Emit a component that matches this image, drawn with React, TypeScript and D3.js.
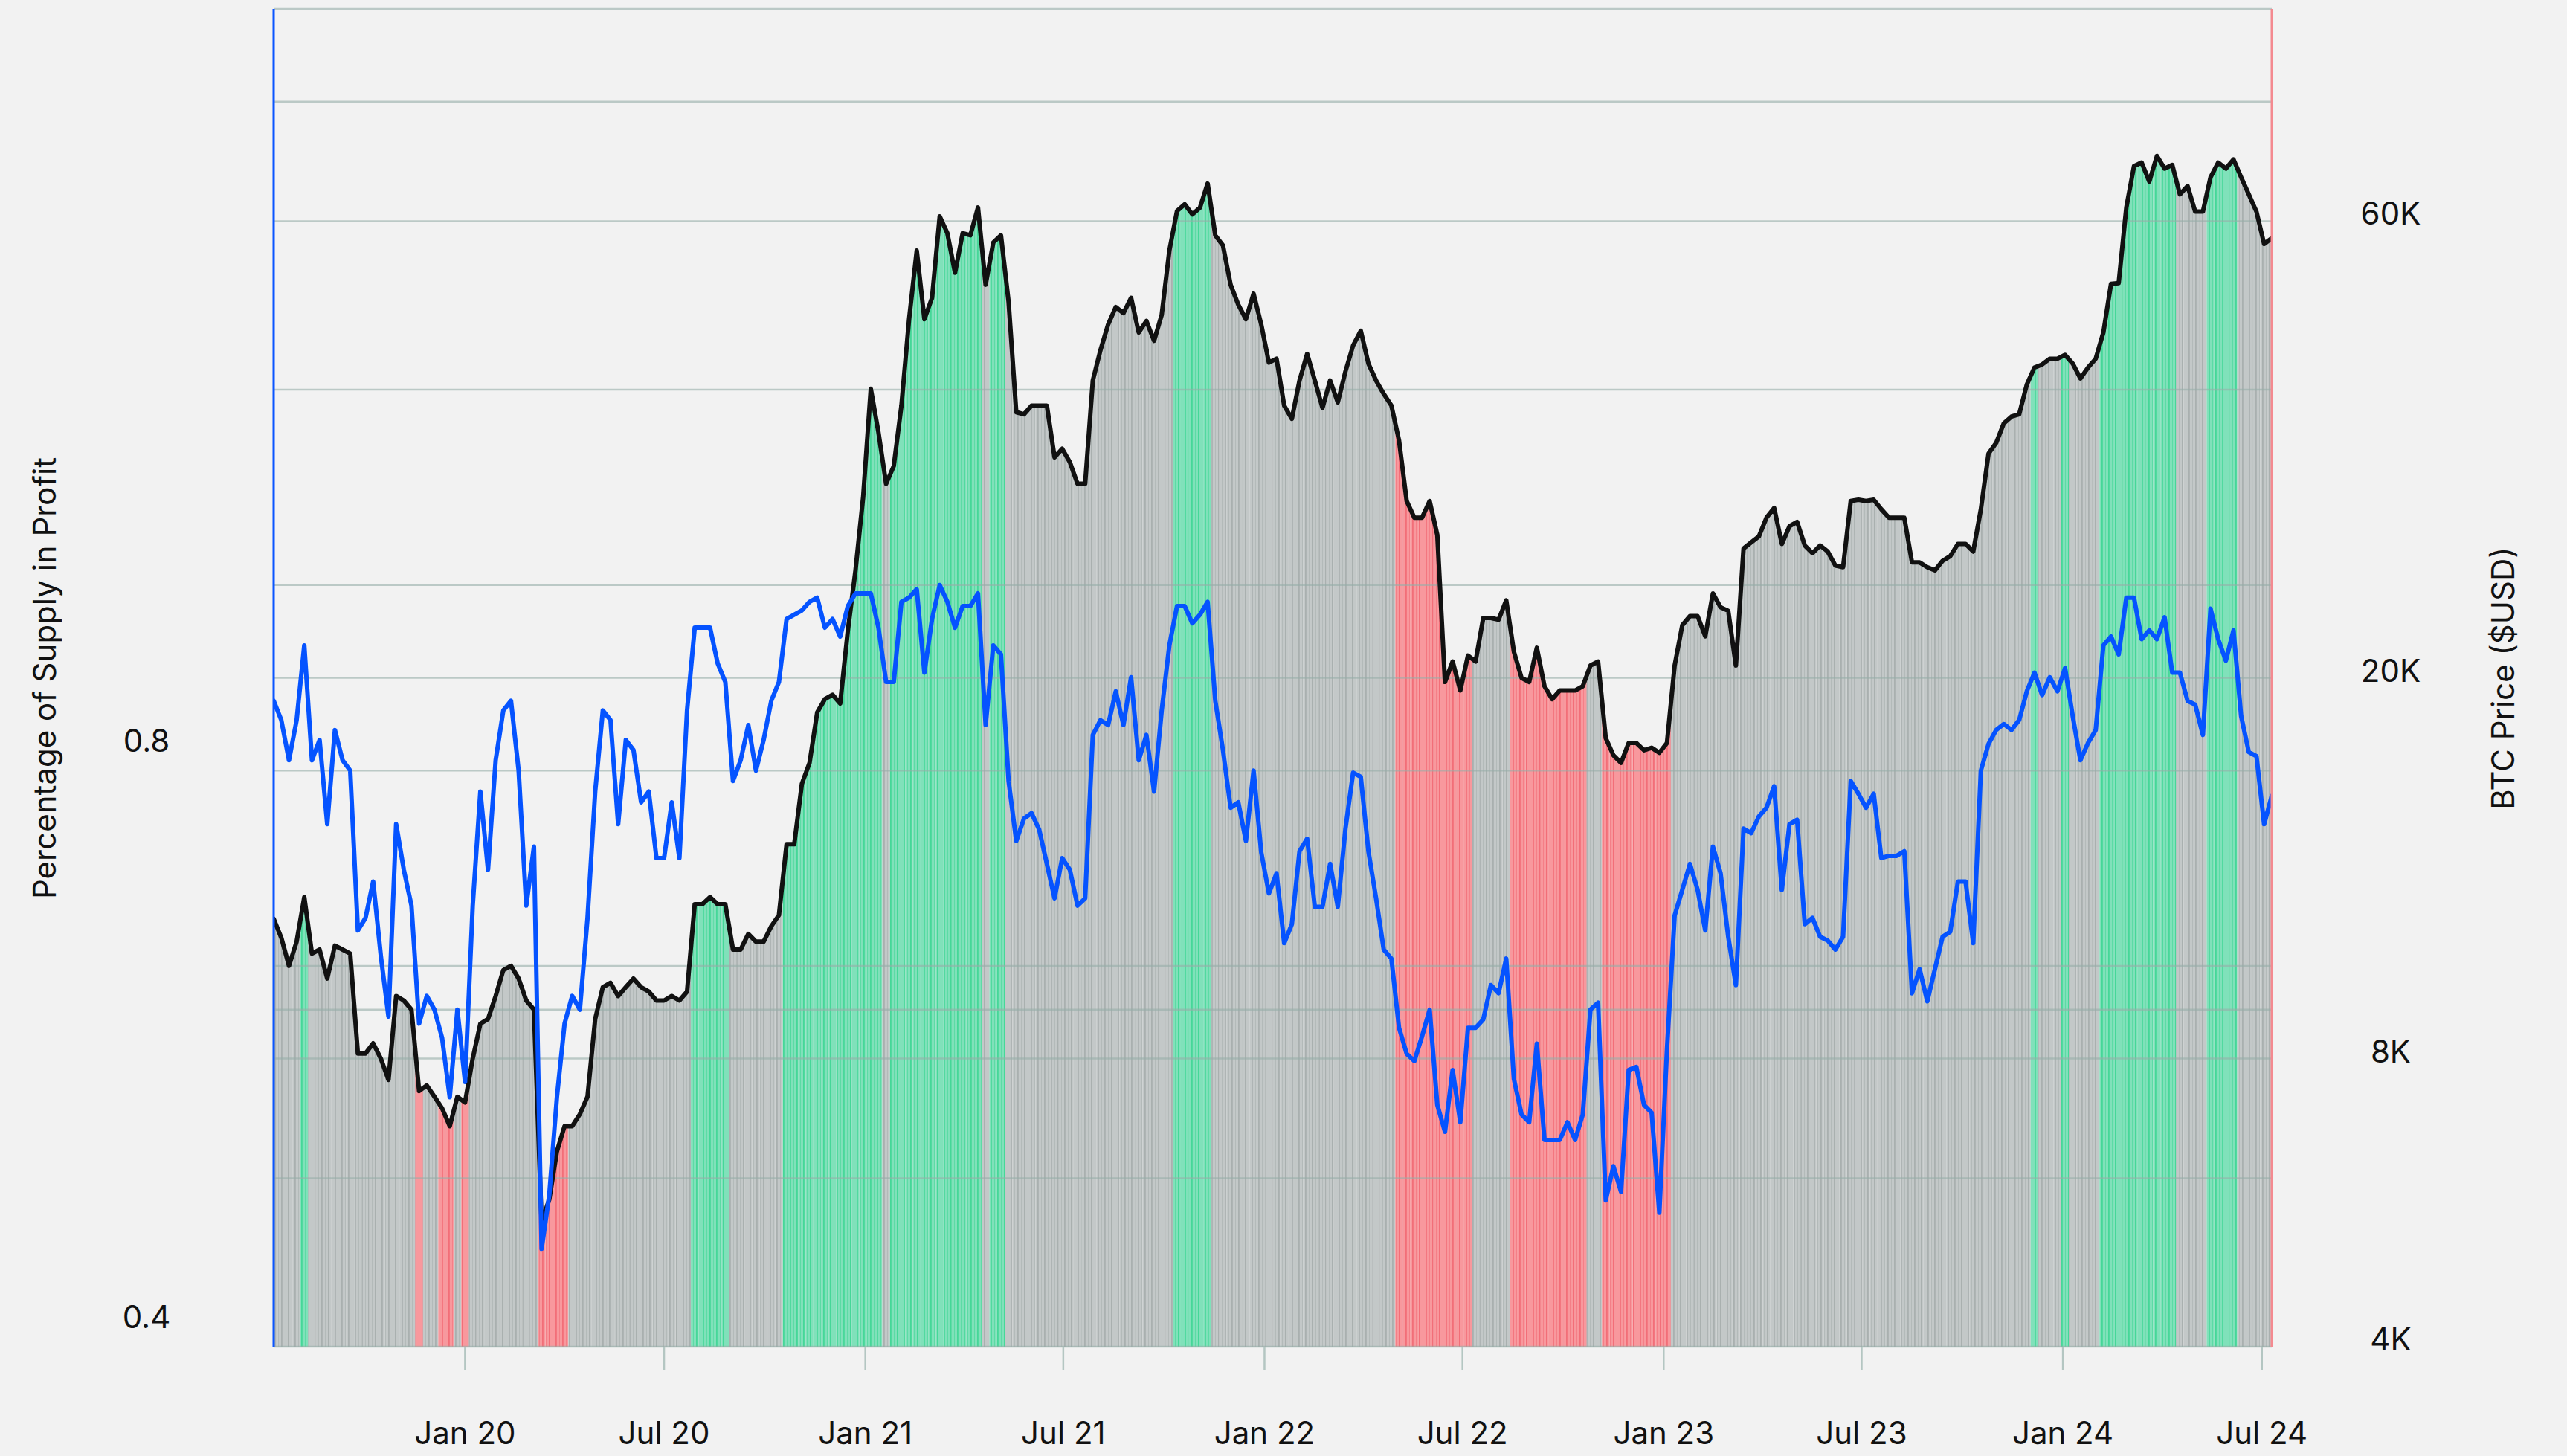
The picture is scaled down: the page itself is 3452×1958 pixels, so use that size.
import React from 'react';
import * as d3 from 'd3';

// weekly samples, first one on 2019-07-10
const startDate = new Date(Date.UTC(2019, 6, 10));
const endDate = new Date(Date.UTC(2024, 6, 10));
const stepDays = 7;

// BTC price, thousands of USD
const btcPriceK = [
  11.2, 10.7, 10.0, 10.6, 11.8, 10.3, 10.4, 9.7, 10.5, 10.4, 10.3, 8.1, 8.1, 8.3, 8.0, 7.6, 9.3, 9.2, 9.0, 7.4, 7.5, 7.3,
  7.1, 6.8, 7.3, 7.2, 8.0, 8.7, 8.8, 9.3, 9.9, 10.0, 9.7, 9.2, 9.0, 5.4, 5.7, 6.4, 6.8, 6.8, 7.0, 7.3, 8.8, 9.5,
  9.6, 9.3, 9.5, 9.7, 9.5, 9.4, 9.2, 9.2, 9.3, 9.2, 9.4, 11.6, 11.6, 11.8, 11.6, 11.6, 10.4, 10.4, 10.8, 10.6, 10.6, 11.0,
  11.3, 13.4, 13.4, 15.5, 16.3, 18.4, 19.0, 19.2, 18.8, 22.4, 25.9, 30.9, 40.1, 36.1, 31.9, 33.3, 38.5, 47.4, 55.9, 47.4, 49.9,
  60.7, 58.3, 53.0, 58.3, 58.0, 62.0, 51.5, 57.0, 58.0, 49.4, 37.9, 37.7, 38.5, 38.5, 38.5, 34.0, 34.7, 33.6, 31.9, 31.9, 40.9, 44.0,
  46.8, 48.8, 48.1, 49.9, 45.9, 47.2, 45.0, 47.9, 55.9, 61.5, 62.5, 61.0, 62.0, 65.7, 58.0, 56.6, 51.5, 49.1, 47.4, 50.4, 46.8, 42.7,
  43.1, 38.5, 37.3, 40.9, 43.6, 40.9, 38.3, 40.9, 38.8, 41.8, 44.5, 46.1, 42.6, 40.9, 39.6, 38.5, 35.4, 30.6, 29.4, 29.4, 30.6, 28.2,
  19.8, 20.8, 19.4, 21.1, 20.8, 23.1, 23.1, 23.0, 24.1, 21.3, 20.0, 19.8, 21.5, 19.6, 19.0, 19.4, 19.4, 19.4, 19.6, 20.6, 20.8,
  17.3, 16.6, 16.3, 17.1, 17.1, 16.8, 16.9, 16.7, 17.1, 20.6, 22.7, 23.2, 23.2, 22.1, 24.5, 23.7, 23.5, 20.6, 27.3, 27.7, 28.1, 29.4,
  30.1, 27.6, 28.8, 29.1, 27.5, 27.0, 27.5, 27.1, 26.2, 26.1, 30.6, 30.7, 30.6, 30.7, 30.0, 29.4, 29.4, 29.4, 26.4, 26.4, 26.1, 25.9,
  26.5, 26.8, 27.6, 27.6, 27.1, 30.0, 34.3, 35.2, 36.9, 37.5, 37.7, 40.5, 42.2, 42.5, 43.1, 43.1, 43.5, 42.6, 41.1, 42.2, 43.1, 45.9,
  51.6, 51.7, 62.0, 68.5, 69.1, 66.0, 70.2, 68.1, 68.7, 64.0, 65.3, 61.4, 61.4, 66.7, 69.1, 68.1, 69.6, 66.7, 64.0, 61.4, 56.8, 57.6,
];

// share of supply in profit
const supplyInProfit = [
  0.87, 0.85, 0.81, 0.85, 0.93, 0.81, 0.83, 0.75, 0.84, 0.81, 0.80, 0.66, 0.67, 0.70, 0.64, 0.595, 0.75, 0.71, 0.68, 0.59, 0.61, 0.60,
  0.58, 0.54, 0.60, 0.55, 0.68, 0.78, 0.71, 0.81, 0.86, 0.87, 0.80, 0.68, 0.73, 0.45, 0.48, 0.54, 0.59, 0.61, 0.60, 0.67, 0.78, 0.86,
  0.85, 0.75, 0.83, 0.82, 0.77, 0.78, 0.72, 0.72, 0.77, 0.72, 0.86, 0.95, 0.95, 0.95, 0.91, 0.89, 0.79, 0.81, 0.845, 0.80, 0.83, 0.87,
  0.89, 0.96, 0.965, 0.97, 0.98, 0.985, 0.95, 0.96, 0.94, 0.975, 0.99, 0.99, 0.99, 0.95, 0.89, 0.89, 0.98, 0.985, 0.995, 0.90, 0.96,
  1.0, 0.98, 0.95, 0.975, 0.975, 0.99, 0.845, 0.93, 0.92, 0.79, 0.735, 0.755, 0.76, 0.745, 0.715, 0.686, 0.72, 0.71, 0.68, 0.686, 0.835, 0.85,
  0.845, 0.88, 0.845, 0.895, 0.81, 0.835, 0.78, 0.86, 0.93, 0.975, 0.975, 0.955, 0.965, 0.98, 0.87, 0.82, 0.765, 0.77, 0.735, 0.80, 0.725, 0.69,
  0.707, 0.65, 0.665, 0.726, 0.737, 0.679, 0.679, 0.715, 0.679, 0.746, 0.798, 0.794, 0.726, 0.686, 0.645, 0.638, 0.587, 0.569, 0.564, 0.581, 0.60, 0.535,
  0.518, 0.558, 0.524, 0.587, 0.587, 0.593, 0.618, 0.612, 0.638, 0.552, 0.529, 0.524, 0.576, 0.513, 0.513, 0.513, 0.524, 0.513, 0.529, 0.60, 0.605,
  0.477, 0.497, 0.482, 0.558, 0.56, 0.535, 0.53, 0.47, 0.572, 0.672, 0.693, 0.715, 0.693, 0.66, 0.73, 0.707, 0.655, 0.618, 0.746, 0.742, 0.757, 0.765,
  0.785, 0.693, 0.75, 0.754, 0.665, 0.67, 0.655, 0.652, 0.645, 0.655, 0.79, 0.778, 0.765, 0.778, 0.72, 0.722, 0.722, 0.726, 0.612, 0.63, 0.606, 0.63,
  0.655, 0.659, 0.70, 0.70, 0.65, 0.80, 0.826, 0.84, 0.846, 0.84, 0.85, 0.88, 0.90, 0.876, 0.895, 0.88, 0.905, 0.854, 0.81, 0.827, 0.84, 0.93,
  0.94, 0.92, 0.985, 0.985, 0.937, 0.947, 0.937, 0.962, 0.90, 0.90, 0.87, 0.866, 0.835, 0.972, 0.937, 0.913, 0.947, 0.854, 0.818, 0.814, 0.75, 0.776,
];

// bar colour per week: n = neutral, g = profit zone, r = loss zone
const barState = [
  'nnnngnnnnnnnnnnnnnnrnnrrnrnnnnnnnnnrrrrnnnnn',
  'nnnnnnnnnnngggggnnnnnnngggggggggggggnggggggg',
  'gggggngg' + 'nnnnnnnnnnnnnnnnnnnnnn' + 'gggggnnnnnnnn',
  'nnnnnnnnnnnnnnnnrrrrrrrrrrnnnnnrrrrrrrrrrnn',
  'rrrrrrrrr' + 'nnnnnnnnnnnnnnnnnnnnnnnnnnnnnnnnnnn',
  'nnnnnnnnnnnngnnngnnnnggggggggggnnnnggggnnnnn',
].join('');

const priceTicks = [4000, 8000, 20000, 60000];
const priceGrid = [4000, 6000, 8000, 10000, 20000, 40000, 60000, 80000, 100000];
const profitTicks = [0.4, 0.8];
const profitGrid = [0.6, 0.8, 1.0];

const fills: Record<string, [string, string]> = {
  n: ['#c3c8c8', '#a9b0af'],
  g: ['#80e1ba', '#45d798'],
  r: ['#f8989d', '#f26e78'],
};

export default function App() {
  const width = 3452;
  const height = 1958;
  const left = 368, right = 3055, top = 12, bottom = 1811;
  const font = 'Inter, Roboto, sans-serif';

  const dates = btcPriceK.map((_, i) => d3.utcDay.offset(startDate, i * stepDays));
  const x = d3.scaleUtc().domain([startDate, endDate]).range([left, right]);
  const yPrice = d3.scaleLog().domain([4000, 100000]).range([bottom, top]);
  const yProfit = d3.scaleLog().domain([0.4, 2]).range([bottom, top]);

  const py = btcPriceK.map((p) => yPrice(p * 1000));
  const bars = dates.map((d, i) => {
    const xc = x(d);
    const xl = x(d3.utcHour.offset(d, -stepDays * 12));
    const xr = x(d3.utcHour.offset(d, stepDays * 12));
    const yl = i > 0 ? (py[i - 1] + py[i]) / 2 : py[i];
    const yr = i < py.length - 1 ? (py[i] + py[i + 1]) / 2 : py[i];
    return {
      key: i,
      state: barState[i] || 'n',
      path: `M${xl},${bottom}L${xl},${yl}L${xc},${py[i]}L${xr},${yr}L${xr},${bottom}Z`,
    };
  });

  const priceLine = d3.line<number>()
    .x((_, i) => x(dates[i]))
    .y((p) => yPrice(p * 1000))(btcPriceK);
  const profitLine = d3.line<number>()
    .x((_, i) => x(dates[i]))
    .y((v) => yProfit(Math.min(v, 1)))(supplyInProfit);

  const xTicks = x.ticks(d3.utcMonth.every(6) as any);
  const fmt = d3.utcFormat('%b %y');

  return (
    <svg width={width} height={height} style={{ position: 'absolute', left: 0, top: 0, background: '#f2f2f2' }}>
      <defs>
        <clipPath id="plot">
          <rect x={left} y={top - 4} width={right - left} height={bottom - top + 4} />
        </clipPath>
        {Object.keys(fills).map((k) => (
          <pattern key={k} id={'stripe-' + k} patternUnits="userSpaceOnUse" width={9} height={20}>
            <rect width={9} height={20} fill={fills[k][0]} />
            <rect x={0} width={1.8} height={20} fill={fills[k][1]} />
            <rect x={5} width={1} height={20} fill={fills[k][1]} opacity={0.6} />
          </pattern>
        ))}
      </defs>
      <rect width={width} height={height} fill="#f2f2f2" />

      <g clipPath="url(#plot)">
        {bars.map((b) => (
          <path key={b.key} d={b.path} fill={`url(#stripe-${b.state})`} />
        ))}
      </g>

      <g stroke="#96aea9" strokeOpacity={0.6} strokeWidth={2.5}>
        {priceGrid.map((v) => (
          <line key={'p' + v} x1={left} x2={right} y1={yPrice(v)} y2={yPrice(v)} />
        ))}
        {profitGrid.map((v) => (
          <line key={'q' + v} x1={left} x2={right} y1={yProfit(v)} y2={yProfit(v)} />
        ))}
      </g>

      <g clipPath="url(#plot)" fill="none" strokeLinejoin="round" strokeLinecap="round">
        <path d={priceLine || ''} stroke="#111111" strokeWidth={6} />
        <path d={profitLine || ''} stroke="#0553ff" strokeWidth={6} />
      </g>

      <line x1={left} x2={left} y1={top} y2={bottom} stroke="#0a55ff" strokeWidth={3} />
      <line x1={right} x2={right} y1={top} y2={bottom} stroke="#f48a90" strokeWidth={3} />

      <g stroke="#b4c6c2" strokeWidth={2.5}>
        {xTicks.map((t) => (
          <line key={+t} x1={x(t)} x2={x(t)} y1={bottom} y2={bottom + 31} />
        ))}
      </g>

      <g fontFamily={font} fontSize={42} fill="#111" textAnchor="middle">
        {xTicks.map((t) => (
          <text key={+t} x={x(t)} y={1942}>{fmt(t)}</text>
        ))}
        {priceTicks.map((v) => (
          <text key={v} x={3215} y={yPrice(v) + 5}>{d3.format('~s')(v).replace('k', 'K')}</text>
        ))}
        {profitTicks.map((v) => (
          <text key={v} x={197} y={yProfit(v) - 25}>{v.toFixed(1)}</text>
        ))}
        <text transform="translate(75,912) rotate(-90)">Percentage of Supply in Profit</text>
        <text transform="translate(3381,912) rotate(-90)">BTC Price ($USD)</text>
      </g>
    </svg>
  );
}
